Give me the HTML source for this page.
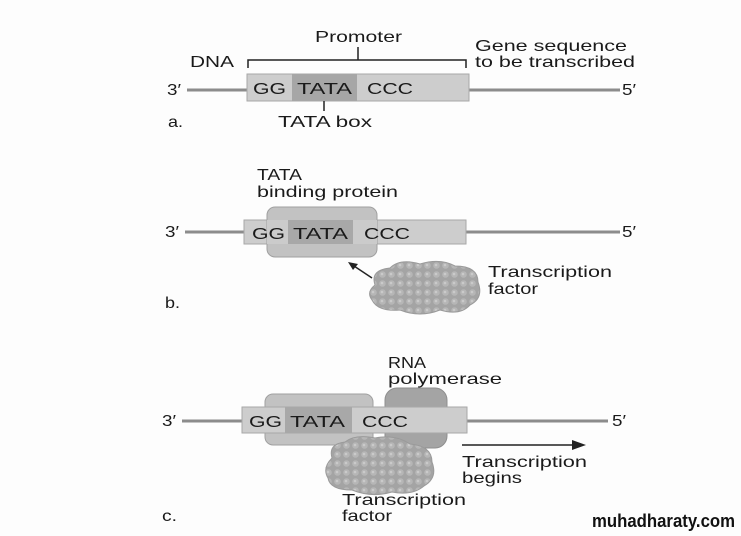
<!DOCTYPE html>
<html><head><meta charset="utf-8"><style>
html,body{margin:0;padding:0;background:#fff}
svg{display:block}
text{font-family:"Liberation Sans",sans-serif;fill:#1a1a1a}
</style></head><body>
<svg width="741" height="536" viewBox="0 0 741 536" xmlns="http://www.w3.org/2000/svg">
<defs>
<pattern id="bump" width="9" height="9" patternUnits="userSpaceOnUse">
<rect width="9" height="9" fill="#a4a4a4"/>
<circle cx="4.5" cy="4.5" r="3.3" fill="#b6b6b6"/>
<circle cx="4" cy="4" r="1.3" fill="#cacaca"/>
</pattern>
</defs>
<rect width="741" height="536" fill="#fdfdfd"/>
<g font-size="16" lengthAdjust="spacingAndGlyphs">
<!-- Panel a -->
<text x="315" y="42" textLength="87" lengthAdjust="spacingAndGlyphs">Promoter</text>
<text x="190" y="67" textLength="44" lengthAdjust="spacingAndGlyphs">DNA</text>
<text x="475" y="51" textLength="152" lengthAdjust="spacingAndGlyphs">Gene sequence</text>
<text x="475" y="67" textLength="160" lengthAdjust="spacingAndGlyphs">to be transcribed</text>
<path d="M248 68 V60 H466 V68 M358 60 V47" stroke="#222" stroke-width="1.5" fill="none"/>
<text x="167" y="95" textLength="14" lengthAdjust="spacingAndGlyphs">3′</text>
<line x1="187" y1="90" x2="247" y2="90" stroke="#8c8c8c" stroke-width="3"/>
<line x1="469" y1="90" x2="620" y2="90" stroke="#8c8c8c" stroke-width="3"/>
<text x="622" y="95" textLength="14" lengthAdjust="spacingAndGlyphs">5′</text>
<rect x="247" y="74" width="222" height="27" fill="#cdcdcd" stroke="#a8a8a8"/>
<rect x="292" y="74" width="65" height="27" fill="#a6a6a6"/>
<text x="253" y="94" textLength="33" lengthAdjust="spacingAndGlyphs">GG</text>
<text x="297" y="94" textLength="55" lengthAdjust="spacingAndGlyphs">TATA</text>
<text x="367" y="94" textLength="46" lengthAdjust="spacingAndGlyphs">CCC</text>
<line x1="324" y1="101" x2="324" y2="111" stroke="#222" stroke-width="1.5"/>
<text x="278" y="127" textLength="94" lengthAdjust="spacingAndGlyphs">TATA box</text>
<text x="168" y="127" textLength="15" lengthAdjust="spacingAndGlyphs">a.</text>

<!-- Panel b -->
<text x="257" y="180" textLength="45" lengthAdjust="spacingAndGlyphs">TATA</text>
<text x="257" y="197" textLength="141" lengthAdjust="spacingAndGlyphs">binding protein</text>
<text x="165" y="237" textLength="14" lengthAdjust="spacingAndGlyphs">3′</text>
<line x1="185" y1="232" x2="244" y2="232" stroke="#8c8c8c" stroke-width="3"/>
<line x1="466" y1="232" x2="620" y2="232" stroke="#8c8c8c" stroke-width="3"/>
<text x="622" y="237" textLength="14" lengthAdjust="spacingAndGlyphs">5′</text>
<rect x="244" y="220" width="222" height="24" fill="#cdcdcd" stroke="#a8a8a8"/>
<rect x="267" y="207" width="110" height="50" rx="8" fill="#c2c2c2" stroke="#a0a0a0"/>
<rect x="267" y="220" width="110" height="24" fill="#cbcbcb"/>
<rect x="288" y="220" width="65" height="24" fill="#a8a8a8"/>
<text x="252" y="239" textLength="33" lengthAdjust="spacingAndGlyphs">GG</text>
<text x="293" y="239" textLength="55" lengthAdjust="spacingAndGlyphs">TATA</text>
<text x="364" y="239" textLength="46" lengthAdjust="spacingAndGlyphs">CCC</text>
<line x1="372" y1="278" x2="354" y2="266" stroke="#222" stroke-width="1.5"/>
<path d="M348 262 L358 264 L353 270 Z" fill="#222"/>
<path d="M375 285 Q370 270 390 268 Q400 258 420 264 Q440 258 455 266 Q478 266 478 282 Q484 298 470 305 Q460 316 440 310 Q420 318 400 310 Q378 312 372 300 Q366 292 375 285 Z" fill="url(#bump)" stroke="#9a9a9a"/>
<text x="488" y="277" textLength="124" lengthAdjust="spacingAndGlyphs">Transcription</text>
<text x="488" y="294" textLength="50" lengthAdjust="spacingAndGlyphs">factor</text>
<text x="165" y="308" textLength="15" lengthAdjust="spacingAndGlyphs">b.</text>

<!-- Panel c -->
<text x="388" y="368" textLength="38" lengthAdjust="spacingAndGlyphs">RNA</text>
<text x="388" y="384" textLength="114" lengthAdjust="spacingAndGlyphs">polymerase</text>
<text x="162" y="426" textLength="14" lengthAdjust="spacingAndGlyphs">3′</text>
<line x1="182" y1="421" x2="242" y2="421" stroke="#8c8c8c" stroke-width="3"/>
<line x1="467" y1="421" x2="608" y2="421" stroke="#8c8c8c" stroke-width="3"/>
<text x="612" y="426" textLength="14" lengthAdjust="spacingAndGlyphs">5′</text>
<rect x="265" y="394" width="108" height="51" rx="8" fill="#c2c2c2" stroke="#a0a0a0"/>
<rect x="385" y="388" width="62" height="60" rx="12" fill="#a4a4a4" stroke="#8e8e8e"/>
<rect x="242" y="407" width="225" height="26" fill="#cdcdcd" stroke="#a8a8a8"/>
<rect x="285" y="407" width="67" height="26" fill="#a8a8a8"/>
<text x="249" y="427" textLength="33" lengthAdjust="spacingAndGlyphs">GG</text>
<text x="290" y="427" textLength="55" lengthAdjust="spacingAndGlyphs">TATA</text>
<text x="362" y="427" textLength="46" lengthAdjust="spacingAndGlyphs">CCC</text>
<path d="M332 458 Q328 444 345 442 Q355 434 375 438 Q395 434 410 444 Q432 446 432 462 Q438 478 424 486 Q412 496 392 492 Q372 498 352 490 Q330 490 328 478 Q322 468 332 458 Z" fill="url(#bump)" stroke="#9a9a9a"/>
<line x1="462" y1="445" x2="575" y2="445" stroke="#222" stroke-width="1.5"/>
<path d="M586 445 L572 440 L572 450 Z" fill="#222"/>
<text x="462" y="467" textLength="125" lengthAdjust="spacingAndGlyphs">Transcription</text>
<text x="462" y="483" textLength="60" lengthAdjust="spacingAndGlyphs">begins</text>
<text x="342" y="505" textLength="124" lengthAdjust="spacingAndGlyphs">Transcription</text>
<text x="342" y="521" textLength="50" lengthAdjust="spacingAndGlyphs">factor</text>
<text x="162" y="521" textLength="15" lengthAdjust="spacingAndGlyphs">c.</text>
</g>
<text x="592" y="527" font-size="18" font-weight="bold" style="fill:#111" textLength="143" lengthAdjust="spacingAndGlyphs">muhadharaty.com</text>
</svg>
</body></html>
